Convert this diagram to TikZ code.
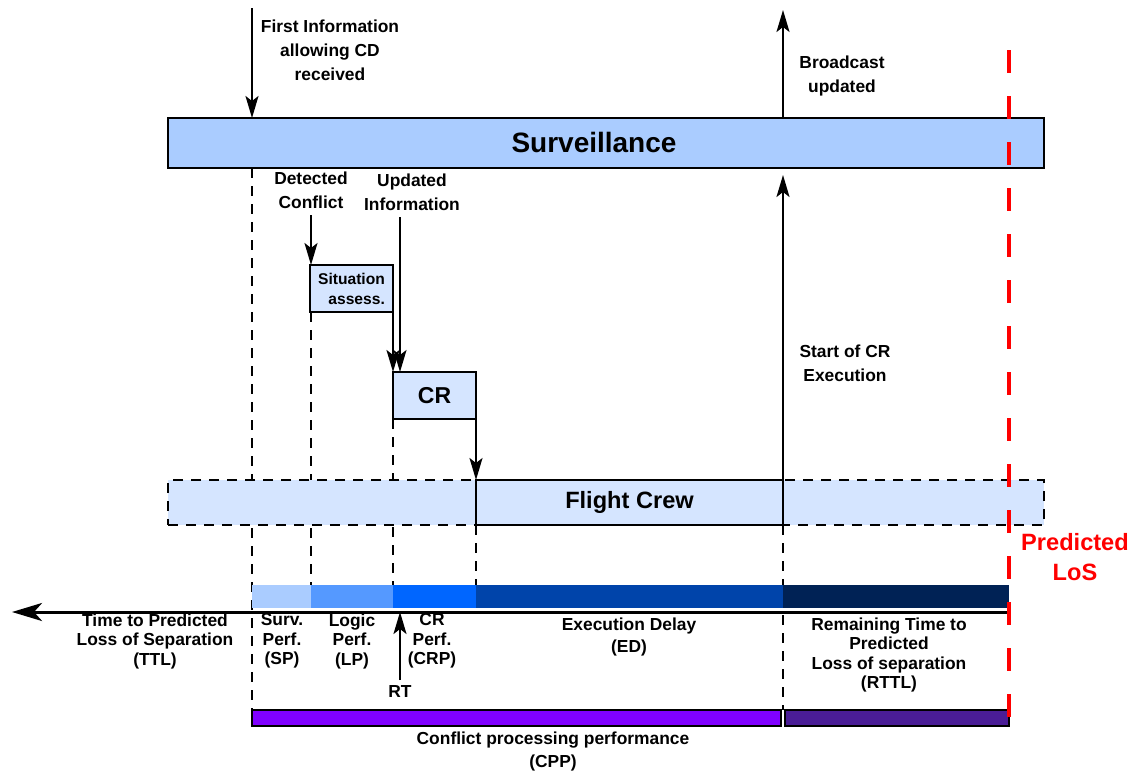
\documentclass[tikz,border=0pt]{standalone}
\usepackage{fontspec}
\setmainfont{Liberation Sans}
\usetikzlibrary{positioning, arrows.meta, calc}
\definecolor{survblue}{HTML}{AACCFF}
\definecolor{crewblue}{HTML}{D5E5FF}
\definecolor{spblue}{HTML}{AACCFF}
\definecolor{lpblue}{HTML}{5599FF}
\definecolor{crpblue}{HTML}{0066FF}
\definecolor{edblue}{HTML}{0044AA}
\definecolor{rttlblue}{HTML}{002255}
\definecolor{cppviolet}{HTML}{8000FF}
\definecolor{rttlviolet}{HTML}{4A1D96}
\definecolor{losred}{HTML}{FF0000}
\tikzset{
	x=0.5pt, y=-0.5pt, % one unit is one pixel, y runs downwards
	>={Stealth[length=11pt, width=6.5pt, inset=2.5pt]}, % bold arrow heads
	lane/.style={draw, line width=1.2pt, inner sep=0pt, outer sep=0pt, anchor=north west}, % the boxes
	note/.style={align=center, font=\fontsize{8.7}{12}\selectfont\bfseries}, % text at the arrows
	timenote/.style={align=center, font=\fontsize{8.7}{9.75}\selectfont\bfseries}, % text under the time line
	guide/.style={dashed, line width=0.6pt, dash pattern=on 5pt off 4pt}, % thin dashed lines
	flow/.style={->, line width=1pt}, % arrows
}

\begin{document}
\begin{tikzpicture}
		\useasboundingbox (0,0) rectangle (1130,771);

		% guides behind the boxes
		\draw[guide] (252,168) -- (252,710);
		\draw[guide] (311,312) -- (311,585);
		\draw[guide] (393,419) -- (393,585);
		\draw[guide] (476,525) -- (476,585);
		\draw[guide] (783,525) -- (783,710);

		% boxes
		\node[lane, fill=survblue, minimum width=438pt, minimum height=25pt] (surv) at (168,118) {};
		\node[font=\fontsize{14}{16}\selectfont\bfseries] (survlbl) at (594,142) {Surveillance};
		\node[lane, fill=crewblue, dashed, dash pattern=on 5pt off 4pt, line width=0.9pt,
			minimum width=438pt, minimum height=22.5pt] (band) at (168,480) {};
		\node[lane, fill=crewblue, minimum width=153.5pt, minimum height=22.5pt,
			font=\fontsize{11.8}{13}\selectfont\bfseries] (crew) at (476,480) {Flight Crew};
		\node[lane, fill=crewblue, minimum width=41.5pt, minimum height=23.5pt, align=right,
			font=\fontsize{7.8}{10}\selectfont\bfseries] (sit) at (310,265) {Situation\\assess.};
		\node[lane, fill=crewblue, minimum width=41.5pt, minimum height=23.5pt,
			font=\fontsize{11.5}{13}\selectfont\bfseries] (cr) at (393,372) {CR};

		% arrows between the steps
		\coordinate (fi) at (252,8);
		\coordinate (bc) at (783,10);
		\coordinate (dc) at (311,215);
		\coordinate (ui) at (400,217);
		\draw[flow] (fi) -- (fi |- surv.north);
		\draw[flow] (bc |- surv.north) -- (bc);
		\draw[flow] (crew.north east) -- ([yshift=-3.5pt]crew.north east |- surv.south);
		\draw[flow] (dc) -- (dc |- sit.north);
		\draw[flow] (ui) -- (ui |- cr.north);
		\draw[flow] (sit.south east) -- (cr.north west);
		\draw[flow] (cr.south east) -- (crew.north west);

		% labels of the arrows
		\node[note] (filbl) at (330,50) {First Information\\allowing CD\\received};
		\node[note] (bclbl) at (842,76) {Broadcast\\updated};
		\node[note] (dclbl) at (311,190) {Detected\\Conflict};
		\node[note] (uilbl) at (412,192) {Updated\\Information};
		\node[note] (selbl) at (845,363) {Start of CR\\Execution};

		% time bar
		\fill[spblue] (252,585) rectangle (311,608);
		\fill[lpblue] (311,585) rectangle (393,608);
		\fill[crpblue] (393,585) rectangle (476,608);
		\fill[edblue] (476,585) rectangle (783,608);
		\fill[rttlblue] (783,585) rectangle (1009,608);

		% time line
		\coordinate (los) at (1009,612);
		\coordinate (far) at (12,612);
		\draw[line width=1.5pt, -{Stealth[length=15pt, width=9pt, inset=4pt]}] (los) -- (far);
		\coordinate (rt) at (400,680);
		\draw[flow] (rt) -- (rt |- los);

		\node[timenote] (ttl) at (155,641) {Time to Predicted\\Loss of Separation\\(TTL)};
		\node[timenote] (sp) at (282,641) {Surv.\\Perf.\\(SP)};
		\node[timenote] (lp) at (352,641) {Logic\\Perf.\\(LP)};
		\node[timenote] (crp) at (432,641) {CR\\Perf.\\(CRP)};
		\node[timenote] (rtlbl) at (400,692) {RT};
		\node[timenote, font=\fontsize{8.7}{11}\selectfont\bfseries] (ed) at (629,637) {Execution Delay\\(ED)};
		\node[timenote] (rttl) at (889,655) {Remaining Time to\\Predicted\\Loss of separation\\(RTTL)};

		% processing bars
		\draw[fill=cppviolet, line width=0.8pt] (252,710) rectangle (781,726);
		\draw[fill=rttlviolet, line width=0.8pt] (785,710) rectangle (1009,726);
		\node[timenote, font=\fontsize{8.7}{11.5}\selectfont\bfseries] (cpp) at (553,751) {Conflict processing performance\\(CPP)};

		% predicted loss of separation
		\draw[losred, line width=2pt, dash pattern=on 11.5pt off 11.5pt] (1009,50) -- (1009,727);
		\node[note, text=losred, font=\fontsize{11.8}{15}\selectfont\bfseries] (loslbl) at (1075,557) {Predicted\\LoS};
	\end{tikzpicture}
\end{document}
